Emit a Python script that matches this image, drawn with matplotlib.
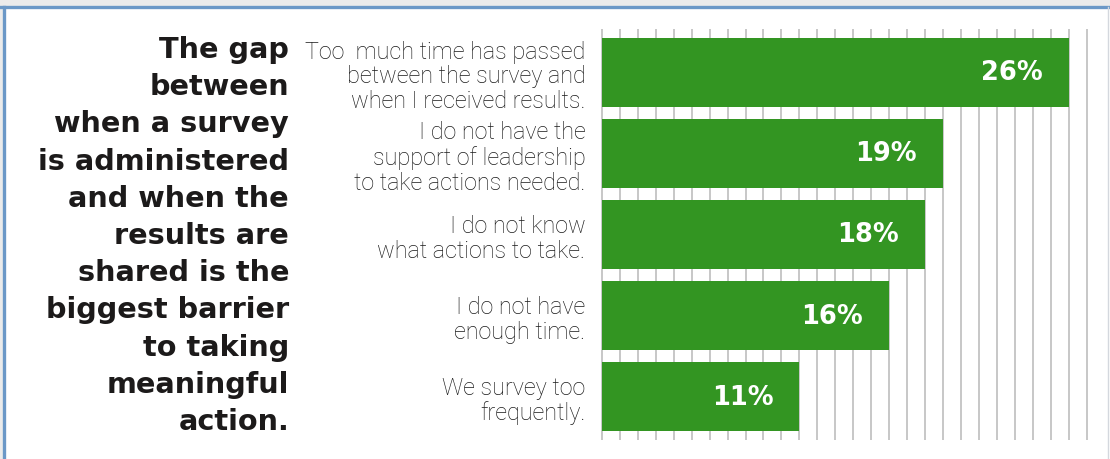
import matplotlib.pyplot as plt

categories = [
    "Too  much time has passed\nbetween the survey and\nwhen I received results.",
    "I do not have the\nsupport of leadership\nto take actions needed.",
    "I do not know\nwhat actions to take.",
    "I do not have\nenough time.",
    "We survey too\nfrequently.",
]
values = [26, 19, 18, 16, 11]
value_labels = ["26%", "19%", "18%", "16%", "11%"]
grid_ticks = list(range(28))
title = ("The gap\nbetween\nwhen a survey\nis administered\nand when the\nresults are\n"
         "shared is the\nbiggest barrier\nto taking\nmeaningful\naction.")

W, H = 1110, 460
fig = plt.figure(figsize=(W / 100, H / 100), dpi=100)
fig.patch.set_facecolor("white")

# frame: gray strip above, blue top/left line, thin gray right line
fig.add_artist(plt.Rectangle((0, 1 - 7 / H), 1, 7 / H, transform=fig.transFigure,
                             color="#ebebeb", zorder=0))
fig.add_artist(plt.Rectangle((0, 0), 2 / W, 1, transform=fig.transFigure,
                             color="#ebebeb", zorder=0))
fig.add_artist(plt.Line2D([0, 1], [1 - 8 / H, 1 - 8 / H], transform=fig.transFigure,
                          color="#6b98c7", lw=2.4, zorder=1))
fig.add_artist(plt.Line2D([4 / W, 4 / W], [0, 1 - 8 / H], transform=fig.transFigure,
                          color="#6b98c7", lw=2.4, zorder=1))
fig.add_artist(plt.Line2D([1108 / W, 1108 / W], [0, 1 - 8 / H], transform=fig.transFigure,
                          color="#d4d8de", lw=1, zorder=1))

ax = fig.add_axes([600.2 / W, 19 / H, 488.1 / W, 411 / H])
ax.set_facecolor("none")
pos = list(range(len(values)))
ax.barh(pos, values, height=0.85, color="#339522", zorder=3)
for p, v, t in zip(pos, values, value_labels):
    ax.text(v - 1.45, p, t, ha="right", va="center", color="white",
            fontsize=18.5, family="DejaVu Sans", fontweight="bold", zorder=4)

ax.set_xlim(-0.1, 27.1)
ax.set_ylim(4.537, -0.537)
ax.set_xticks(grid_ticks)
ax.set_xticklabels([])
ax.grid(axis="x", color="#b8b8b8", lw=1.1, zorder=0)
ax.set_yticks(pos)
ax.set_yticklabels(categories, family="Roboto", fontweight="light", fontsize=16.8,
                   color="#1a1a1a", linespacing=1.1, ha="right", multialignment="right")
ax.tick_params(length=0, axis="both", pad=10.7)
for s in ax.spines.values():
    s.set_visible(False)

fig.text(289 / W, 1 - 236 / H, title, ha="right", va="center", multialignment="right",
         family="DejaVu Sans", fontweight="bold", fontsize=20.7, color="#1c1a1a",
         linespacing=1.42)

fig.savefig("out.png", dpi=100)
